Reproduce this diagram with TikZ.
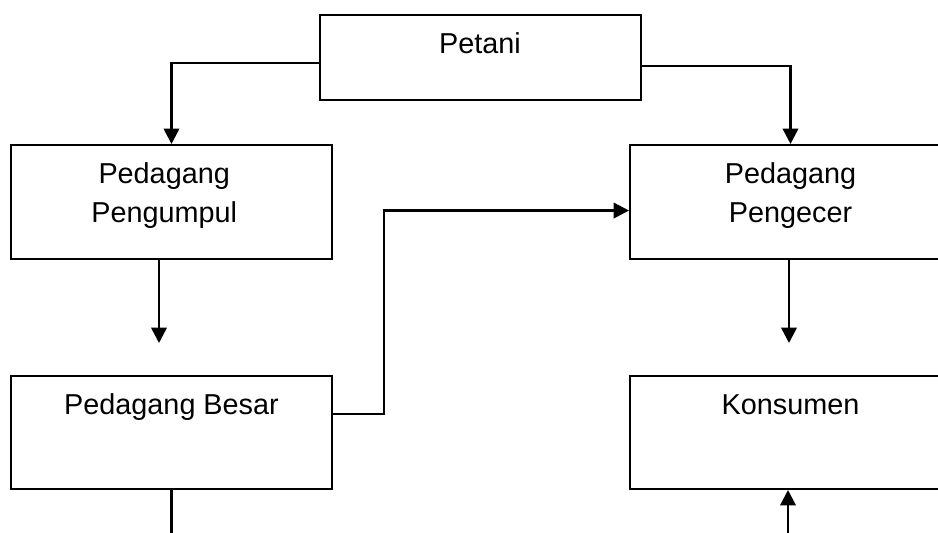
\documentclass[tikz,border=0pt]{standalone}
\usepackage{fontspec}
\setmainfont{Liberation Sans}
\usetikzlibrary{arrows.meta, calc}

\begin{document}
\begin{tikzpicture}[x=0.75pt, y=-0.75pt,
	box/.style={draw, line width=1.5pt, minimum width=240.75pt, inner sep=0pt},
	boxtext/.style={anchor=base, yshift=-29.25pt, align=center, inner sep=0pt,
		font=\fontsize{21.6}{29.25}\selectfont},
	boxtexttwo/.style={boxtext, yshift=-29.25pt},
	arr/.style={line width=1.9pt, -{Triangle[length=11.5pt, width=11.5pt]}},
	link/.style={line width=1.9pt}]

	% the page is cut at the right, so the right boxes run off it
	\useasboundingbox (0,0) rectangle (938,532);
	\clip (0,0) rectangle (938,532);

	% the boxes, text sits near the top edge
	\node[box, minimum height=63.75pt, label={[boxtext]north:Petani}] (petani) at (480,57.5) {};
	\node[box, minimum height=85.5pt, label={[boxtexttwo, xshift=-5.5pt]north:Pedagang\\Pengumpul}] (pengumpul) at (171.5,202) {};
	\node[box, minimum height=85.5pt, label={[boxtexttwo]north:Pedagang\\Pengecer}] (pengecer) at (790.5,202) {};
	\node[box, minimum height=84.75pt, label={[boxtext]north:Pedagang Besar}] (besar) at (171.5,432.5) {};
	\node[box, minimum height=84.75pt, label={[boxtext]north:Konsumen}] (konsumen) at (790.5,432.5) {};

	% loose ends of the arrows
	\coordinate (ujung1) at (159,343);
	\coordinate (ujung2) at (789,343);
	\coordinate (bawah1) at (171.5,540);
	\coordinate (bawah2) at (788,540);

	% from Petani
	\draw[arr] ([yshift=-4.1pt]petani.west) -| (pengumpul.north);
	\draw[arr] ([yshift=-6.4pt]petani.east) -| (pengecer.north);

	% down arrows that stop short
	\draw[arr] (pengumpul.south -| ujung1) -- (ujung1);
	\draw[arr] (pengecer.south -| ujung2) -- (ujung2);

	% Pedagang Besar to Pedagang Pengecer
	\draw[arr] ([yshift=13.9pt]besar.east) -- ++(51,0) |- ([yshift=-6.4pt]pengecer.west);

	% bottom lines
	\draw[link] (besar.south) -- (bawah1);
	\draw[arr] (bawah2) -- (bawah2 |- konsumen.south);

\end{tikzpicture}
\end{document}
